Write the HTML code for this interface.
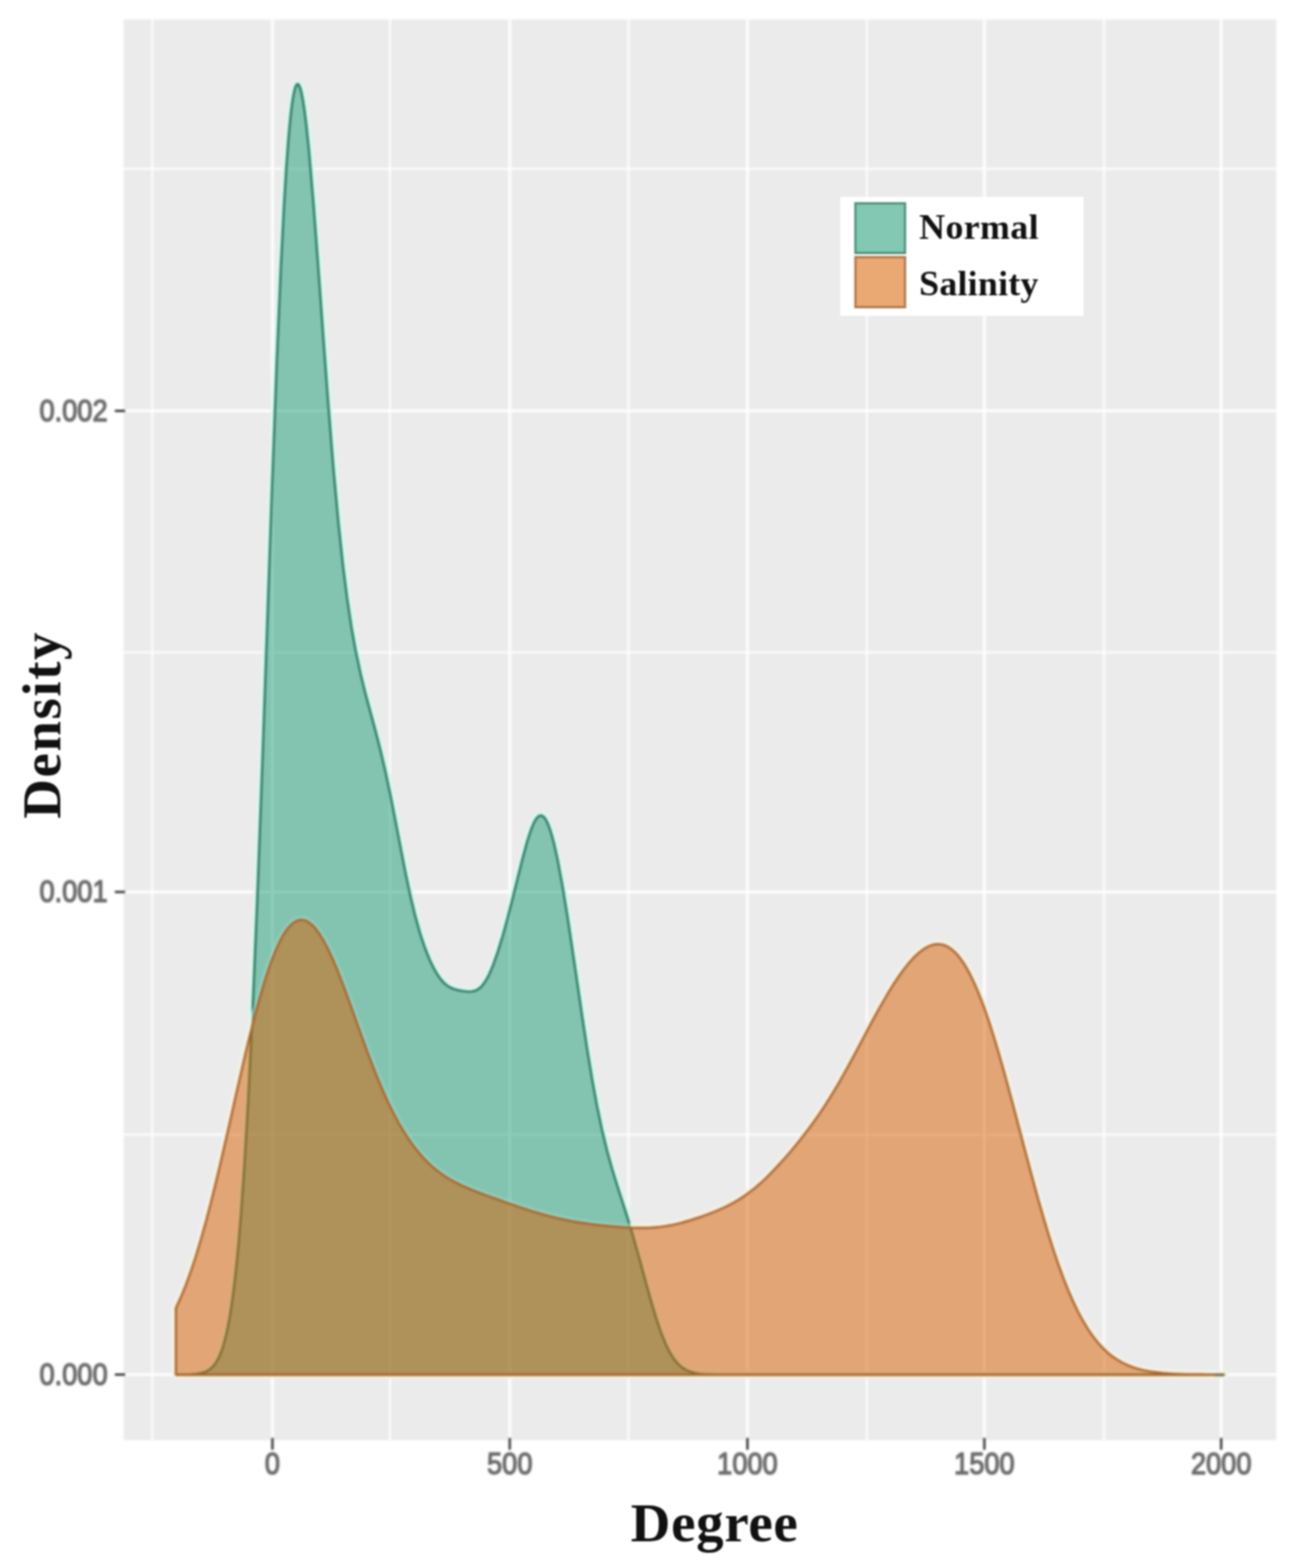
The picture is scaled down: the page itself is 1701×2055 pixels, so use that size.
<!DOCTYPE html>
<html lang="en"><head><meta charset="utf-8"><title>Degree density</title>
<style>
html,body{margin:0;padding:0;background:#fff;}
body{width:1701px;height:2055px;position:relative;overflow:hidden;}
</style></head><body>
<svg width="1701" height="2055" viewBox="0 0 1701 2055" style="position:absolute;left:0;top:0">
<defs><filter id="soft" filterUnits="userSpaceOnUse" x="0" y="0" width="1701" height="2055" color-interpolation-filters="sRGB"><feGaussianBlur stdDeviation="1.8"/></filter></defs>
<defs><filter id="soft2" filterUnits="userSpaceOnUse" x="0" y="0" width="1701" height="2055" color-interpolation-filters="sRGB"><feGaussianBlur stdDeviation="0.9"/></filter></defs>
<rect x="0" y="0" width="1701" height="2055" fill="#fff"/>
<g filter="url(#soft)">
<rect x="0" y="0" width="1701" height="2055" fill="#fff"/>
<rect x="162" y="25.5" width="1510.5" height="1862.0" fill="#ebebeb"/>
<g stroke="#ffffff" stroke-width="2.4">
<line x1="199.5" y1="25.5" x2="199.5" y2="1887.5"/>
<line x1="511" y1="25.5" x2="511" y2="1887.5"/>
<line x1="823.5" y1="25.5" x2="823.5" y2="1887.5"/>
<line x1="1136" y1="25.5" x2="1136" y2="1887.5"/>
<line x1="1446.8" y1="25.5" x2="1446.8" y2="1887.5"/>
<line x1="162" y1="1487" x2="1672.5" y2="1487"/>
<line x1="162" y1="855" x2="1672.5" y2="855"/>
<line x1="162" y1="221.3" x2="1672.5" y2="221.3"/>
</g>
<g stroke="#ffffff" stroke-width="3.6">
<line x1="357" y1="25.5" x2="357" y2="1887.5"/>
<line x1="668" y1="25.5" x2="668" y2="1887.5"/>
<line x1="979.5" y1="25.5" x2="979.5" y2="1887.5"/>
<line x1="1290" y1="25.5" x2="1290" y2="1887.5"/>
<line x1="1600.3" y1="25.5" x2="1600.3" y2="1887.5"/>
<line x1="162" y1="1801.5" x2="1672.5" y2="1801.5"/>
<line x1="162" y1="1169" x2="1672.5" y2="1169"/>
<line x1="162" y1="538.5" x2="1672.5" y2="538.5"/>
</g>
<clipPath id="outG"><path clip-rule="evenodd" d="M0,0H1701V2055H0ZM230.5,1801.5L230.5,1801.5L237.0,1801.4L243.5,1801.4L250.0,1801.2L256.5,1800.7L263.0,1799.7L268.0,1798.3L272.0,1796.5L275.0,1794.6L278.0,1792.0L280.5,1789.3L283.0,1785.8L285.5,1781.6L288.0,1776.4L290.5,1770.0L293.0,1762.4L295.5,1753.2L298.0,1742.2L300.5,1729.2L303.5,1710.7L306.5,1688.5L309.5,1662.2L313.0,1625.9L316.5,1582.8L320.5,1524.8L325.0,1447.7L330.5,1336.4L337.0,1182.3L343.5,1008.7L350.0,823.9L356.5,639.0L363.0,466.9L368.0,351.0L372.0,272.2L375.0,222.7L377.5,188.0L379.5,164.9L381.0,150.2L382.5,137.9L384.0,127.8L385.0,122.4L386.0,118.0L387.0,114.6L387.5,113.3L388.0,112.2L388.5,111.3L389.0,110.7L389.5,110.3L390.0,110.2L390.5,110.3L391.0,110.6L391.5,111.2L392.0,111.9L392.5,112.9L393.5,115.6L394.5,119.0L395.5,123.3L397.0,131.2L399.0,144.2L401.5,164.2L405.0,198.2L411.0,268.8L417.5,355.7L424.0,445.9L430.5,533.4L437.0,613.9L443.5,685.0L449.5,741.1L455.0,784.7L460.5,821.4L466.0,852.2L472.5,882.8L479.0,909.3L485.5,933.5L492.0,957.5L498.5,982.8L505.0,1010.6L511.5,1041.2L518.0,1074.2L524.5,1108.3L531.0,1141.7L537.5,1172.7L544.0,1199.9L550.5,1223.2L557.0,1242.6L563.0,1257.6L568.5,1269.1L573.5,1277.7L577.5,1283.3L581.5,1287.8L585.0,1290.9L589.0,1293.6L594.0,1295.9L600.5,1297.8L607.0,1298.9L613.5,1299.6L618.0,1299.4L621.5,1298.8L624.0,1297.9L626.5,1296.5L629.0,1294.6L631.5,1292.2L634.5,1288.4L637.5,1283.7L641.0,1277.1L645.5,1266.7L652.0,1248.5L658.5,1227.3L665.0,1203.8L671.5,1178.6L678.0,1152.4L684.5,1126.4L691.0,1102.4L695.0,1089.9L698.0,1082.0L700.0,1077.7L702.0,1074.2L703.5,1072.1L705.0,1070.5L706.0,1069.7L707.0,1069.2L708.0,1068.9L709.0,1068.8L710.0,1069.0L711.0,1069.5L712.0,1070.2L713.0,1071.1L714.5,1073.0L716.0,1075.5L718.0,1079.6L720.0,1084.7L722.5,1092.4L726.0,1105.4L730.5,1125.5L737.0,1160.3L743.5,1200.1L750.0,1243.2L756.5,1287.8L763.0,1332.2L769.5,1375.0L776.0,1414.6L782.5,1450.0L789.0,1481.1L795.5,1507.9L802.0,1531.4L808.5,1552.6L815.0,1572.9L821.5,1593.3L828.0,1614.7L834.5,1637.3L841.0,1660.9L847.5,1684.8L854.0,1708.0L860.5,1729.5L867.0,1748.4L872.5,1761.8L877.0,1771.0L881.5,1778.6L885.5,1784.1L889.5,1788.5L894.0,1792.3L899.0,1795.5L905.0,1798.0L911.5,1799.6L918.0,1800.6L924.5,1801.1L931.0,1801.3L937.5,1801.4L944.0,1801.5L950.5,1801.5L957.0,1801.5L963.5,1801.5L970.0,1801.5L976.5,1801.5L983.0,1801.5L989.5,1801.5L996.0,1801.5L1002.5,1801.5L1009.0,1801.5L1015.5,1801.5L1022.0,1801.5L1028.5,1801.5L1035.0,1801.5L1041.5,1801.5L1048.0,1801.5L1054.5,1801.5L1061.0,1801.5L1067.5,1801.5L1074.0,1801.5L1080.5,1801.5L1087.0,1801.5L1093.5,1801.5L1100.0,1801.5L1106.5,1801.5L1113.0,1801.5L1119.5,1801.5L1126.0,1801.5L1132.5,1801.5L1139.0,1801.5L1145.5,1801.5L1152.0,1801.5L1158.5,1801.5L1165.0,1801.5L1171.5,1801.5L1178.0,1801.5L1184.5,1801.5L1191.0,1801.5L1197.5,1801.5L1204.0,1801.5L1210.5,1801.5L1217.0,1801.5L1223.5,1801.5L1230.0,1801.5L1236.5,1801.5L1243.0,1801.5L1249.5,1801.5L1256.0,1801.5L1262.5,1801.5L1269.0,1801.5L1275.5,1801.5L1282.0,1801.5L1288.5,1801.5L1295.0,1801.5L1301.5,1801.5L1308.0,1801.5L1314.5,1801.5L1321.0,1801.5L1327.5,1801.5L1334.0,1801.5L1340.5,1801.5L1347.0,1801.5L1353.5,1801.5L1360.0,1801.5L1366.5,1801.5L1373.0,1801.5L1379.5,1801.5L1386.0,1801.5L1392.5,1801.5L1399.0,1801.5L1405.5,1801.5L1412.0,1801.5L1418.5,1801.5L1425.0,1801.5L1431.5,1801.5L1438.0,1801.5L1444.5,1801.5L1451.0,1801.5L1457.5,1801.5L1464.0,1801.5L1470.5,1801.5L1477.0,1801.5L1483.5,1801.5L1490.0,1801.5L1496.5,1801.5L1503.0,1801.5L1509.5,1801.5L1516.0,1801.5L1522.5,1801.5L1529.0,1801.5L1535.5,1801.5L1542.0,1801.5L1548.5,1801.5L1555.0,1801.5L1561.5,1801.5L1568.0,1801.5L1574.5,1801.5L1581.0,1801.5L1587.5,1801.5L1594.0,1801.5L1600.5,1801.5L1604.0,1801.5L1604.0,1801.5Z"/></clipPath>
<clipPath id="outO"><path clip-rule="evenodd" d="M0,0H1701V2055H0ZM230.5,1801.5L230.5,1714.3L237.0,1700.2L243.5,1684.2L250.0,1666.5L256.5,1646.9L263.0,1625.4L269.5,1602.3L276.0,1577.5L282.5,1551.4L289.0,1524.1L295.5,1495.9L302.0,1467.2L308.5,1438.3L315.0,1409.7L321.5,1381.7L328.0,1354.8L334.5,1329.2L341.0,1305.4L347.5,1283.6L354.0,1264.1L360.5,1247.2L366.5,1234.0L371.5,1224.9L376.0,1218.1L380.0,1213.4L383.5,1210.1L386.5,1208.0L389.5,1206.5L392.0,1205.8L394.5,1205.5L397.0,1205.6L399.5,1206.2L402.5,1207.4L405.5,1209.3L409.0,1212.1L413.0,1216.3L418.0,1222.8L424.0,1232.4L430.5,1244.9L437.0,1259.1L443.5,1274.7L450.0,1291.5L456.5,1309.1L463.0,1327.2L469.5,1345.4L476.0,1363.5L482.5,1381.2L489.0,1398.2L495.5,1414.5L502.0,1429.9L508.5,1444.3L515.0,1457.6L521.5,1469.9L528.0,1481.1L534.5,1491.3L541.0,1500.6L547.5,1509.0L554.0,1516.5L560.5,1523.2L567.0,1529.3L573.5,1534.6L580.0,1539.4L586.5,1543.7L593.0,1547.5L599.5,1550.9L606.0,1554.1L612.5,1556.9L619.0,1559.6L625.5,1562.2L632.0,1564.6L638.5,1567.0L645.0,1569.4L651.5,1571.7L658.0,1574.1L664.5,1576.4L671.0,1578.6L677.5,1580.9L684.0,1583.1L690.5,1585.2L697.0,1587.3L703.5,1589.2L710.0,1591.1L716.5,1592.9L723.0,1594.6L729.5,1596.2L736.0,1597.6L742.5,1599.0L749.0,1600.3L755.5,1601.5L762.0,1602.5L768.5,1603.5L775.0,1604.4L781.5,1605.2L788.0,1605.9L794.5,1606.5L801.0,1607.1L807.5,1607.7L814.0,1608.2L820.5,1608.6L827.0,1609.0L833.5,1609.2L840.0,1609.3L846.5,1609.2L853.0,1609.0L859.5,1608.5L866.0,1607.9L872.5,1606.9L879.0,1605.8L885.5,1604.4L892.0,1602.8L898.5,1601.0L905.0,1599.1L911.5,1597.0L918.0,1594.8L924.5,1592.5L931.0,1590.1L937.5,1587.5L944.0,1584.8L950.5,1581.8L957.0,1578.5L963.5,1574.9L970.0,1571.0L976.5,1566.7L983.0,1561.9L989.5,1556.8L996.0,1551.2L1002.5,1545.2L1009.0,1538.8L1015.5,1532.1L1022.0,1525.1L1028.5,1517.9L1035.0,1510.4L1041.5,1502.6L1048.0,1494.6L1054.5,1486.3L1061.0,1477.7L1067.5,1468.8L1074.0,1459.5L1080.5,1449.7L1087.0,1439.6L1093.5,1428.9L1100.0,1417.9L1106.5,1406.4L1113.0,1394.7L1119.5,1382.6L1126.0,1370.4L1132.5,1358.1L1139.0,1345.9L1145.5,1333.8L1152.0,1322.0L1158.5,1310.6L1165.0,1299.6L1171.5,1289.1L1178.0,1279.4L1184.5,1270.3L1191.0,1262.2L1197.5,1254.9L1204.0,1248.8L1210.5,1243.8L1216.5,1240.4L1221.5,1238.5L1226.0,1237.5L1230.5,1237.4L1234.5,1237.9L1238.5,1239.1L1242.5,1241.0L1247.0,1244.1L1252.0,1248.5L1257.5,1254.8L1263.5,1263.3L1270.0,1274.5L1276.5,1287.8L1283.0,1302.9L1289.5,1320.0L1296.0,1338.8L1302.5,1359.1L1309.0,1380.8L1315.5,1403.6L1322.0,1427.3L1328.5,1451.6L1335.0,1476.3L1341.5,1501.1L1348.0,1525.7L1354.5,1549.9L1361.0,1573.4L1367.5,1596.0L1374.0,1617.7L1380.5,1638.1L1387.0,1657.2L1393.5,1675.0L1400.0,1691.3L1406.5,1706.1L1413.0,1719.6L1419.5,1731.6L1426.0,1742.3L1432.5,1751.7L1439.0,1759.9L1445.5,1767.0L1452.0,1773.1L1458.5,1778.3L1465.0,1782.6L1471.5,1786.3L1478.0,1789.4L1484.5,1791.9L1491.0,1793.9L1497.5,1795.6L1504.0,1796.9L1510.5,1798.0L1517.0,1798.8L1523.5,1799.5L1530.0,1800.0L1536.5,1800.4L1543.0,1800.7L1549.5,1800.9L1556.0,1801.1L1562.5,1801.2L1569.0,1801.3L1575.5,1801.3L1582.0,1801.4L1588.5,1801.4L1595.0,1801.5L1601.5,1801.5L1604.0,1801.5L1604.0,1801.5Z"/></clipPath>
<path d="M230.5,1801.5L230.5,1801.5L237.0,1801.4L243.5,1801.4L250.0,1801.2L256.5,1800.7L263.0,1799.7L268.0,1798.3L272.0,1796.5L275.0,1794.6L278.0,1792.0L280.5,1789.3L283.0,1785.8L285.5,1781.6L288.0,1776.4L290.5,1770.0L293.0,1762.4L295.5,1753.2L298.0,1742.2L300.5,1729.2L303.5,1710.7L306.5,1688.5L309.5,1662.2L313.0,1625.9L316.5,1582.8L320.5,1524.8L325.0,1447.7L330.5,1336.4L337.0,1182.3L343.5,1008.7L350.0,823.9L356.5,639.0L363.0,466.9L368.0,351.0L372.0,272.2L375.0,222.7L377.5,188.0L379.5,164.9L381.0,150.2L382.5,137.9L384.0,127.8L385.0,122.4L386.0,118.0L387.0,114.6L387.5,113.3L388.0,112.2L388.5,111.3L389.0,110.7L389.5,110.3L390.0,110.2L390.5,110.3L391.0,110.6L391.5,111.2L392.0,111.9L392.5,112.9L393.5,115.6L394.5,119.0L395.5,123.3L397.0,131.2L399.0,144.2L401.5,164.2L405.0,198.2L411.0,268.8L417.5,355.7L424.0,445.9L430.5,533.4L437.0,613.9L443.5,685.0L449.5,741.1L455.0,784.7L460.5,821.4L466.0,852.2L472.5,882.8L479.0,909.3L485.5,933.5L492.0,957.5L498.5,982.8L505.0,1010.6L511.5,1041.2L518.0,1074.2L524.5,1108.3L531.0,1141.7L537.5,1172.7L544.0,1199.9L550.5,1223.2L557.0,1242.6L563.0,1257.6L568.5,1269.1L573.5,1277.7L577.5,1283.3L581.5,1287.8L585.0,1290.9L589.0,1293.6L594.0,1295.9L600.5,1297.8L607.0,1298.9L613.5,1299.6L618.0,1299.4L621.5,1298.8L624.0,1297.9L626.5,1296.5L629.0,1294.6L631.5,1292.2L634.5,1288.4L637.5,1283.7L641.0,1277.1L645.5,1266.7L652.0,1248.5L658.5,1227.3L665.0,1203.8L671.5,1178.6L678.0,1152.4L684.5,1126.4L691.0,1102.4L695.0,1089.9L698.0,1082.0L700.0,1077.7L702.0,1074.2L703.5,1072.1L705.0,1070.5L706.0,1069.7L707.0,1069.2L708.0,1068.9L709.0,1068.8L710.0,1069.0L711.0,1069.5L712.0,1070.2L713.0,1071.1L714.5,1073.0L716.0,1075.5L718.0,1079.6L720.0,1084.7L722.5,1092.4L726.0,1105.4L730.5,1125.5L737.0,1160.3L743.5,1200.1L750.0,1243.2L756.5,1287.8L763.0,1332.2L769.5,1375.0L776.0,1414.6L782.5,1450.0L789.0,1481.1L795.5,1507.9L802.0,1531.4L808.5,1552.6L815.0,1572.9L821.5,1593.3L828.0,1614.7L834.5,1637.3L841.0,1660.9L847.5,1684.8L854.0,1708.0L860.5,1729.5L867.0,1748.4L872.5,1761.8L877.0,1771.0L881.5,1778.6L885.5,1784.1L889.5,1788.5L894.0,1792.3L899.0,1795.5L905.0,1798.0L911.5,1799.6L918.0,1800.6L924.5,1801.1L931.0,1801.3L937.5,1801.4L944.0,1801.5L950.5,1801.5L957.0,1801.5L963.5,1801.5L970.0,1801.5L976.5,1801.5L983.0,1801.5L989.5,1801.5L996.0,1801.5L1002.5,1801.5L1009.0,1801.5L1015.5,1801.5L1022.0,1801.5L1028.5,1801.5L1035.0,1801.5L1041.5,1801.5L1048.0,1801.5L1054.5,1801.5L1061.0,1801.5L1067.5,1801.5L1074.0,1801.5L1080.5,1801.5L1087.0,1801.5L1093.5,1801.5L1100.0,1801.5L1106.5,1801.5L1113.0,1801.5L1119.5,1801.5L1126.0,1801.5L1132.5,1801.5L1139.0,1801.5L1145.5,1801.5L1152.0,1801.5L1158.5,1801.5L1165.0,1801.5L1171.5,1801.5L1178.0,1801.5L1184.5,1801.5L1191.0,1801.5L1197.5,1801.5L1204.0,1801.5L1210.5,1801.5L1217.0,1801.5L1223.5,1801.5L1230.0,1801.5L1236.5,1801.5L1243.0,1801.5L1249.5,1801.5L1256.0,1801.5L1262.5,1801.5L1269.0,1801.5L1275.5,1801.5L1282.0,1801.5L1288.5,1801.5L1295.0,1801.5L1301.5,1801.5L1308.0,1801.5L1314.5,1801.5L1321.0,1801.5L1327.5,1801.5L1334.0,1801.5L1340.5,1801.5L1347.0,1801.5L1353.5,1801.5L1360.0,1801.5L1366.5,1801.5L1373.0,1801.5L1379.5,1801.5L1386.0,1801.5L1392.5,1801.5L1399.0,1801.5L1405.5,1801.5L1412.0,1801.5L1418.5,1801.5L1425.0,1801.5L1431.5,1801.5L1438.0,1801.5L1444.5,1801.5L1451.0,1801.5L1457.5,1801.5L1464.0,1801.5L1470.5,1801.5L1477.0,1801.5L1483.5,1801.5L1490.0,1801.5L1496.5,1801.5L1503.0,1801.5L1509.5,1801.5L1516.0,1801.5L1522.5,1801.5L1529.0,1801.5L1535.5,1801.5L1542.0,1801.5L1548.5,1801.5L1555.0,1801.5L1561.5,1801.5L1568.0,1801.5L1574.5,1801.5L1581.0,1801.5L1587.5,1801.5L1594.0,1801.5L1600.5,1801.5L1604.0,1801.5L1604.0,1801.5Z" fill="none" stroke="#d6faee" stroke-opacity="0.8" stroke-width="11" stroke-linejoin="round" clip-path="url(#outG)"/>
<path d="M230.5,1801.5L230.5,1801.5L237.0,1801.4L243.5,1801.4L250.0,1801.2L256.5,1800.7L263.0,1799.7L268.0,1798.3L272.0,1796.5L275.0,1794.6L278.0,1792.0L280.5,1789.3L283.0,1785.8L285.5,1781.6L288.0,1776.4L290.5,1770.0L293.0,1762.4L295.5,1753.2L298.0,1742.2L300.5,1729.2L303.5,1710.7L306.5,1688.5L309.5,1662.2L313.0,1625.9L316.5,1582.8L320.5,1524.8L325.0,1447.7L330.5,1336.4L337.0,1182.3L343.5,1008.7L350.0,823.9L356.5,639.0L363.0,466.9L368.0,351.0L372.0,272.2L375.0,222.7L377.5,188.0L379.5,164.9L381.0,150.2L382.5,137.9L384.0,127.8L385.0,122.4L386.0,118.0L387.0,114.6L387.5,113.3L388.0,112.2L388.5,111.3L389.0,110.7L389.5,110.3L390.0,110.2L390.5,110.3L391.0,110.6L391.5,111.2L392.0,111.9L392.5,112.9L393.5,115.6L394.5,119.0L395.5,123.3L397.0,131.2L399.0,144.2L401.5,164.2L405.0,198.2L411.0,268.8L417.5,355.7L424.0,445.9L430.5,533.4L437.0,613.9L443.5,685.0L449.5,741.1L455.0,784.7L460.5,821.4L466.0,852.2L472.5,882.8L479.0,909.3L485.5,933.5L492.0,957.5L498.5,982.8L505.0,1010.6L511.5,1041.2L518.0,1074.2L524.5,1108.3L531.0,1141.7L537.5,1172.7L544.0,1199.9L550.5,1223.2L557.0,1242.6L563.0,1257.6L568.5,1269.1L573.5,1277.7L577.5,1283.3L581.5,1287.8L585.0,1290.9L589.0,1293.6L594.0,1295.9L600.5,1297.8L607.0,1298.9L613.5,1299.6L618.0,1299.4L621.5,1298.8L624.0,1297.9L626.5,1296.5L629.0,1294.6L631.5,1292.2L634.5,1288.4L637.5,1283.7L641.0,1277.1L645.5,1266.7L652.0,1248.5L658.5,1227.3L665.0,1203.8L671.5,1178.6L678.0,1152.4L684.5,1126.4L691.0,1102.4L695.0,1089.9L698.0,1082.0L700.0,1077.7L702.0,1074.2L703.5,1072.1L705.0,1070.5L706.0,1069.7L707.0,1069.2L708.0,1068.9L709.0,1068.8L710.0,1069.0L711.0,1069.5L712.0,1070.2L713.0,1071.1L714.5,1073.0L716.0,1075.5L718.0,1079.6L720.0,1084.7L722.5,1092.4L726.0,1105.4L730.5,1125.5L737.0,1160.3L743.5,1200.1L750.0,1243.2L756.5,1287.8L763.0,1332.2L769.5,1375.0L776.0,1414.6L782.5,1450.0L789.0,1481.1L795.5,1507.9L802.0,1531.4L808.5,1552.6L815.0,1572.9L821.5,1593.3L828.0,1614.7L834.5,1637.3L841.0,1660.9L847.5,1684.8L854.0,1708.0L860.5,1729.5L867.0,1748.4L872.5,1761.8L877.0,1771.0L881.5,1778.6L885.5,1784.1L889.5,1788.5L894.0,1792.3L899.0,1795.5L905.0,1798.0L911.5,1799.6L918.0,1800.6L924.5,1801.1L931.0,1801.3L937.5,1801.4L944.0,1801.5L950.5,1801.5L957.0,1801.5L963.5,1801.5L970.0,1801.5L976.5,1801.5L983.0,1801.5L989.5,1801.5L996.0,1801.5L1002.5,1801.5L1009.0,1801.5L1015.5,1801.5L1022.0,1801.5L1028.5,1801.5L1035.0,1801.5L1041.5,1801.5L1048.0,1801.5L1054.5,1801.5L1061.0,1801.5L1067.5,1801.5L1074.0,1801.5L1080.5,1801.5L1087.0,1801.5L1093.5,1801.5L1100.0,1801.5L1106.5,1801.5L1113.0,1801.5L1119.5,1801.5L1126.0,1801.5L1132.5,1801.5L1139.0,1801.5L1145.5,1801.5L1152.0,1801.5L1158.5,1801.5L1165.0,1801.5L1171.5,1801.5L1178.0,1801.5L1184.5,1801.5L1191.0,1801.5L1197.5,1801.5L1204.0,1801.5L1210.5,1801.5L1217.0,1801.5L1223.5,1801.5L1230.0,1801.5L1236.5,1801.5L1243.0,1801.5L1249.5,1801.5L1256.0,1801.5L1262.5,1801.5L1269.0,1801.5L1275.5,1801.5L1282.0,1801.5L1288.5,1801.5L1295.0,1801.5L1301.5,1801.5L1308.0,1801.5L1314.5,1801.5L1321.0,1801.5L1327.5,1801.5L1334.0,1801.5L1340.5,1801.5L1347.0,1801.5L1353.5,1801.5L1360.0,1801.5L1366.5,1801.5L1373.0,1801.5L1379.5,1801.5L1386.0,1801.5L1392.5,1801.5L1399.0,1801.5L1405.5,1801.5L1412.0,1801.5L1418.5,1801.5L1425.0,1801.5L1431.5,1801.5L1438.0,1801.5L1444.5,1801.5L1451.0,1801.5L1457.5,1801.5L1464.0,1801.5L1470.5,1801.5L1477.0,1801.5L1483.5,1801.5L1490.0,1801.5L1496.5,1801.5L1503.0,1801.5L1509.5,1801.5L1516.0,1801.5L1522.5,1801.5L1529.0,1801.5L1535.5,1801.5L1542.0,1801.5L1548.5,1801.5L1555.0,1801.5L1561.5,1801.5L1568.0,1801.5L1574.5,1801.5L1581.0,1801.5L1587.5,1801.5L1594.0,1801.5L1600.5,1801.5L1604.0,1801.5L1604.0,1801.5Z" fill="#1b9e77" fill-opacity="0.5" stroke="#25755f" stroke-width="2.9" stroke-linejoin="round"/>
<g clip-path="url(#outG)"><path d="M230.5,1801.5L230.5,1714.3L237.0,1700.2L243.5,1684.2L250.0,1666.5L256.5,1646.9L263.0,1625.4L269.5,1602.3L276.0,1577.5L282.5,1551.4L289.0,1524.1L295.5,1495.9L302.0,1467.2L308.5,1438.3L315.0,1409.7L321.5,1381.7L328.0,1354.8L334.5,1329.2L341.0,1305.4L347.5,1283.6L354.0,1264.1L360.5,1247.2L366.5,1234.0L371.5,1224.9L376.0,1218.1L380.0,1213.4L383.5,1210.1L386.5,1208.0L389.5,1206.5L392.0,1205.8L394.5,1205.5L397.0,1205.6L399.5,1206.2L402.5,1207.4L405.5,1209.3L409.0,1212.1L413.0,1216.3L418.0,1222.8L424.0,1232.4L430.5,1244.9L437.0,1259.1L443.5,1274.7L450.0,1291.5L456.5,1309.1L463.0,1327.2L469.5,1345.4L476.0,1363.5L482.5,1381.2L489.0,1398.2L495.5,1414.5L502.0,1429.9L508.5,1444.3L515.0,1457.6L521.5,1469.9L528.0,1481.1L534.5,1491.3L541.0,1500.6L547.5,1509.0L554.0,1516.5L560.5,1523.2L567.0,1529.3L573.5,1534.6L580.0,1539.4L586.5,1543.7L593.0,1547.5L599.5,1550.9L606.0,1554.1L612.5,1556.9L619.0,1559.6L625.5,1562.2L632.0,1564.6L638.5,1567.0L645.0,1569.4L651.5,1571.7L658.0,1574.1L664.5,1576.4L671.0,1578.6L677.5,1580.9L684.0,1583.1L690.5,1585.2L697.0,1587.3L703.5,1589.2L710.0,1591.1L716.5,1592.9L723.0,1594.6L729.5,1596.2L736.0,1597.6L742.5,1599.0L749.0,1600.3L755.5,1601.5L762.0,1602.5L768.5,1603.5L775.0,1604.4L781.5,1605.2L788.0,1605.9L794.5,1606.5L801.0,1607.1L807.5,1607.7L814.0,1608.2L820.5,1608.6L827.0,1609.0L833.5,1609.2L840.0,1609.3L846.5,1609.2L853.0,1609.0L859.5,1608.5L866.0,1607.9L872.5,1606.9L879.0,1605.8L885.5,1604.4L892.0,1602.8L898.5,1601.0L905.0,1599.1L911.5,1597.0L918.0,1594.8L924.5,1592.5L931.0,1590.1L937.5,1587.5L944.0,1584.8L950.5,1581.8L957.0,1578.5L963.5,1574.9L970.0,1571.0L976.5,1566.7L983.0,1561.9L989.5,1556.8L996.0,1551.2L1002.5,1545.2L1009.0,1538.8L1015.5,1532.1L1022.0,1525.1L1028.5,1517.9L1035.0,1510.4L1041.5,1502.6L1048.0,1494.6L1054.5,1486.3L1061.0,1477.7L1067.5,1468.8L1074.0,1459.5L1080.5,1449.7L1087.0,1439.6L1093.5,1428.9L1100.0,1417.9L1106.5,1406.4L1113.0,1394.7L1119.5,1382.6L1126.0,1370.4L1132.5,1358.1L1139.0,1345.9L1145.5,1333.8L1152.0,1322.0L1158.5,1310.6L1165.0,1299.6L1171.5,1289.1L1178.0,1279.4L1184.5,1270.3L1191.0,1262.2L1197.5,1254.9L1204.0,1248.8L1210.5,1243.8L1216.5,1240.4L1221.5,1238.5L1226.0,1237.5L1230.5,1237.4L1234.5,1237.9L1238.5,1239.1L1242.5,1241.0L1247.0,1244.1L1252.0,1248.5L1257.5,1254.8L1263.5,1263.3L1270.0,1274.5L1276.5,1287.8L1283.0,1302.9L1289.5,1320.0L1296.0,1338.8L1302.5,1359.1L1309.0,1380.8L1315.5,1403.6L1322.0,1427.3L1328.5,1451.6L1335.0,1476.3L1341.5,1501.1L1348.0,1525.7L1354.5,1549.9L1361.0,1573.4L1367.5,1596.0L1374.0,1617.7L1380.5,1638.1L1387.0,1657.2L1393.5,1675.0L1400.0,1691.3L1406.5,1706.1L1413.0,1719.6L1419.5,1731.6L1426.0,1742.3L1432.5,1751.7L1439.0,1759.9L1445.5,1767.0L1452.0,1773.1L1458.5,1778.3L1465.0,1782.6L1471.5,1786.3L1478.0,1789.4L1484.5,1791.9L1491.0,1793.9L1497.5,1795.6L1504.0,1796.9L1510.5,1798.0L1517.0,1798.8L1523.5,1799.5L1530.0,1800.0L1536.5,1800.4L1543.0,1800.7L1549.5,1800.9L1556.0,1801.1L1562.5,1801.2L1569.0,1801.3L1575.5,1801.3L1582.0,1801.4L1588.5,1801.4L1595.0,1801.5L1601.5,1801.5L1604.0,1801.5L1604.0,1801.5Z" fill="none" stroke="#fff1e3" stroke-opacity="0.8" stroke-width="11" stroke-linejoin="round" clip-path="url(#outO)"/></g>
<path d="M230.5,1801.5L230.5,1714.3L237.0,1700.2L243.5,1684.2L250.0,1666.5L256.5,1646.9L263.0,1625.4L269.5,1602.3L276.0,1577.5L282.5,1551.4L289.0,1524.1L295.5,1495.9L302.0,1467.2L308.5,1438.3L315.0,1409.7L321.5,1381.7L328.0,1354.8L334.5,1329.2L341.0,1305.4L347.5,1283.6L354.0,1264.1L360.5,1247.2L366.5,1234.0L371.5,1224.9L376.0,1218.1L380.0,1213.4L383.5,1210.1L386.5,1208.0L389.5,1206.5L392.0,1205.8L394.5,1205.5L397.0,1205.6L399.5,1206.2L402.5,1207.4L405.5,1209.3L409.0,1212.1L413.0,1216.3L418.0,1222.8L424.0,1232.4L430.5,1244.9L437.0,1259.1L443.5,1274.7L450.0,1291.5L456.5,1309.1L463.0,1327.2L469.5,1345.4L476.0,1363.5L482.5,1381.2L489.0,1398.2L495.5,1414.5L502.0,1429.9L508.5,1444.3L515.0,1457.6L521.5,1469.9L528.0,1481.1L534.5,1491.3L541.0,1500.6L547.5,1509.0L554.0,1516.5L560.5,1523.2L567.0,1529.3L573.5,1534.6L580.0,1539.4L586.5,1543.7L593.0,1547.5L599.5,1550.9L606.0,1554.1L612.5,1556.9L619.0,1559.6L625.5,1562.2L632.0,1564.6L638.5,1567.0L645.0,1569.4L651.5,1571.7L658.0,1574.1L664.5,1576.4L671.0,1578.6L677.5,1580.9L684.0,1583.1L690.5,1585.2L697.0,1587.3L703.5,1589.2L710.0,1591.1L716.5,1592.9L723.0,1594.6L729.5,1596.2L736.0,1597.6L742.5,1599.0L749.0,1600.3L755.5,1601.5L762.0,1602.5L768.5,1603.5L775.0,1604.4L781.5,1605.2L788.0,1605.9L794.5,1606.5L801.0,1607.1L807.5,1607.7L814.0,1608.2L820.5,1608.6L827.0,1609.0L833.5,1609.2L840.0,1609.3L846.5,1609.2L853.0,1609.0L859.5,1608.5L866.0,1607.9L872.5,1606.9L879.0,1605.8L885.5,1604.4L892.0,1602.8L898.5,1601.0L905.0,1599.1L911.5,1597.0L918.0,1594.8L924.5,1592.5L931.0,1590.1L937.5,1587.5L944.0,1584.8L950.5,1581.8L957.0,1578.5L963.5,1574.9L970.0,1571.0L976.5,1566.7L983.0,1561.9L989.5,1556.8L996.0,1551.2L1002.5,1545.2L1009.0,1538.8L1015.5,1532.1L1022.0,1525.1L1028.5,1517.9L1035.0,1510.4L1041.5,1502.6L1048.0,1494.6L1054.5,1486.3L1061.0,1477.7L1067.5,1468.8L1074.0,1459.5L1080.5,1449.7L1087.0,1439.6L1093.5,1428.9L1100.0,1417.9L1106.5,1406.4L1113.0,1394.7L1119.5,1382.6L1126.0,1370.4L1132.5,1358.1L1139.0,1345.9L1145.5,1333.8L1152.0,1322.0L1158.5,1310.6L1165.0,1299.6L1171.5,1289.1L1178.0,1279.4L1184.5,1270.3L1191.0,1262.2L1197.5,1254.9L1204.0,1248.8L1210.5,1243.8L1216.5,1240.4L1221.5,1238.5L1226.0,1237.5L1230.5,1237.4L1234.5,1237.9L1238.5,1239.1L1242.5,1241.0L1247.0,1244.1L1252.0,1248.5L1257.5,1254.8L1263.5,1263.3L1270.0,1274.5L1276.5,1287.8L1283.0,1302.9L1289.5,1320.0L1296.0,1338.8L1302.5,1359.1L1309.0,1380.8L1315.5,1403.6L1322.0,1427.3L1328.5,1451.6L1335.0,1476.3L1341.5,1501.1L1348.0,1525.7L1354.5,1549.9L1361.0,1573.4L1367.5,1596.0L1374.0,1617.7L1380.5,1638.1L1387.0,1657.2L1393.5,1675.0L1400.0,1691.3L1406.5,1706.1L1413.0,1719.6L1419.5,1731.6L1426.0,1742.3L1432.5,1751.7L1439.0,1759.9L1445.5,1767.0L1452.0,1773.1L1458.5,1778.3L1465.0,1782.6L1471.5,1786.3L1478.0,1789.4L1484.5,1791.9L1491.0,1793.9L1497.5,1795.6L1504.0,1796.9L1510.5,1798.0L1517.0,1798.8L1523.5,1799.5L1530.0,1800.0L1536.5,1800.4L1543.0,1800.7L1549.5,1800.9L1556.0,1801.1L1562.5,1801.2L1569.0,1801.3L1575.5,1801.3L1582.0,1801.4L1588.5,1801.4L1595.0,1801.5L1601.5,1801.5L1604.0,1801.5L1604.0,1801.5Z" fill="none" stroke="#d8f4e6" stroke-opacity="0.22" stroke-width="9" stroke-linejoin="round" clip-path="url(#outO)"/>
<path d="M230.5,1801.5L230.5,1714.3L237.0,1700.2L243.5,1684.2L250.0,1666.5L256.5,1646.9L263.0,1625.4L269.5,1602.3L276.0,1577.5L282.5,1551.4L289.0,1524.1L295.5,1495.9L302.0,1467.2L308.5,1438.3L315.0,1409.7L321.5,1381.7L328.0,1354.8L334.5,1329.2L341.0,1305.4L347.5,1283.6L354.0,1264.1L360.5,1247.2L366.5,1234.0L371.5,1224.9L376.0,1218.1L380.0,1213.4L383.5,1210.1L386.5,1208.0L389.5,1206.5L392.0,1205.8L394.5,1205.5L397.0,1205.6L399.5,1206.2L402.5,1207.4L405.5,1209.3L409.0,1212.1L413.0,1216.3L418.0,1222.8L424.0,1232.4L430.5,1244.9L437.0,1259.1L443.5,1274.7L450.0,1291.5L456.5,1309.1L463.0,1327.2L469.5,1345.4L476.0,1363.5L482.5,1381.2L489.0,1398.2L495.5,1414.5L502.0,1429.9L508.5,1444.3L515.0,1457.6L521.5,1469.9L528.0,1481.1L534.5,1491.3L541.0,1500.6L547.5,1509.0L554.0,1516.5L560.5,1523.2L567.0,1529.3L573.5,1534.6L580.0,1539.4L586.5,1543.7L593.0,1547.5L599.5,1550.9L606.0,1554.1L612.5,1556.9L619.0,1559.6L625.5,1562.2L632.0,1564.6L638.5,1567.0L645.0,1569.4L651.5,1571.7L658.0,1574.1L664.5,1576.4L671.0,1578.6L677.5,1580.9L684.0,1583.1L690.5,1585.2L697.0,1587.3L703.5,1589.2L710.0,1591.1L716.5,1592.9L723.0,1594.6L729.5,1596.2L736.0,1597.6L742.5,1599.0L749.0,1600.3L755.5,1601.5L762.0,1602.5L768.5,1603.5L775.0,1604.4L781.5,1605.2L788.0,1605.9L794.5,1606.5L801.0,1607.1L807.5,1607.7L814.0,1608.2L820.5,1608.6L827.0,1609.0L833.5,1609.2L840.0,1609.3L846.5,1609.2L853.0,1609.0L859.5,1608.5L866.0,1607.9L872.5,1606.9L879.0,1605.8L885.5,1604.4L892.0,1602.8L898.5,1601.0L905.0,1599.1L911.5,1597.0L918.0,1594.8L924.5,1592.5L931.0,1590.1L937.5,1587.5L944.0,1584.8L950.5,1581.8L957.0,1578.5L963.5,1574.9L970.0,1571.0L976.5,1566.7L983.0,1561.9L989.5,1556.8L996.0,1551.2L1002.5,1545.2L1009.0,1538.8L1015.5,1532.1L1022.0,1525.1L1028.5,1517.9L1035.0,1510.4L1041.5,1502.6L1048.0,1494.6L1054.5,1486.3L1061.0,1477.7L1067.5,1468.8L1074.0,1459.5L1080.5,1449.7L1087.0,1439.6L1093.5,1428.9L1100.0,1417.9L1106.5,1406.4L1113.0,1394.7L1119.5,1382.6L1126.0,1370.4L1132.5,1358.1L1139.0,1345.9L1145.5,1333.8L1152.0,1322.0L1158.5,1310.6L1165.0,1299.6L1171.5,1289.1L1178.0,1279.4L1184.5,1270.3L1191.0,1262.2L1197.5,1254.9L1204.0,1248.8L1210.5,1243.8L1216.5,1240.4L1221.5,1238.5L1226.0,1237.5L1230.5,1237.4L1234.5,1237.9L1238.5,1239.1L1242.5,1241.0L1247.0,1244.1L1252.0,1248.5L1257.5,1254.8L1263.5,1263.3L1270.0,1274.5L1276.5,1287.8L1283.0,1302.9L1289.5,1320.0L1296.0,1338.8L1302.5,1359.1L1309.0,1380.8L1315.5,1403.6L1322.0,1427.3L1328.5,1451.6L1335.0,1476.3L1341.5,1501.1L1348.0,1525.7L1354.5,1549.9L1361.0,1573.4L1367.5,1596.0L1374.0,1617.7L1380.5,1638.1L1387.0,1657.2L1393.5,1675.0L1400.0,1691.3L1406.5,1706.1L1413.0,1719.6L1419.5,1731.6L1426.0,1742.3L1432.5,1751.7L1439.0,1759.9L1445.5,1767.0L1452.0,1773.1L1458.5,1778.3L1465.0,1782.6L1471.5,1786.3L1478.0,1789.4L1484.5,1791.9L1491.0,1793.9L1497.5,1795.6L1504.0,1796.9L1510.5,1798.0L1517.0,1798.8L1523.5,1799.5L1530.0,1800.0L1536.5,1800.4L1543.0,1800.7L1549.5,1800.9L1556.0,1801.1L1562.5,1801.2L1569.0,1801.3L1575.5,1801.3L1582.0,1801.4L1588.5,1801.4L1595.0,1801.5L1601.5,1801.5L1604.0,1801.5L1604.0,1801.5Z" fill="#d95f02" fill-opacity="0.5" stroke="#a9632a" stroke-width="2.9" stroke-linejoin="round"/>
<line x1="230.5" y1="1801.8" x2="1604.0" y2="1801.8" stroke="#a9632a" stroke-opacity="0.75" stroke-width="3.6"/>
<line x1="1592.0" y1="1801.8" x2="1604.0" y2="1801.8" stroke="#5d6b5a" stroke-opacity="0.7" stroke-width="3.6"/>
<g stroke="#333" stroke-width="3">
<line x1="357" y1="1884.5" x2="357" y2="1900.0"/>
<line x1="668" y1="1884.5" x2="668" y2="1900.0"/>
<line x1="979.5" y1="1884.5" x2="979.5" y2="1900.0"/>
<line x1="1290" y1="1884.5" x2="1290" y2="1900.0"/>
<line x1="1600.3" y1="1884.5" x2="1600.3" y2="1900.0"/>
<line x1="150.5" y1="1801.5" x2="164" y2="1801.5"/>
<line x1="150.5" y1="1169" x2="164" y2="1169"/>
<line x1="150.5" y1="538.5" x2="164" y2="538.5"/>
</g>
<g font-family="'Liberation Sans', Arial, sans-serif" font-size="41" fill="#6b6b6b" stroke="#6b6b6b" stroke-width="1.7" stroke-linejoin="round">
<text transform="translate(357,1931.8) scale(0.87,1)" text-anchor="middle">0</text>
<text transform="translate(668,1931.8) scale(0.87,1)" text-anchor="middle">500</text>
<text transform="translate(979.5,1931.8) scale(0.87,1)" text-anchor="middle">1000</text>
<text transform="translate(1290,1931.8) scale(0.87,1)" text-anchor="middle">1500</text>
<text transform="translate(1600.3,1931.8) scale(0.87,1)" text-anchor="middle">2000</text>
<text transform="translate(141,1814.5) scale(0.87,1)" text-anchor="end">0.000</text>
<text transform="translate(141,1182) scale(0.87,1)" text-anchor="end">0.001</text>
<text transform="translate(141,551.5) scale(0.87,1)" text-anchor="end">0.002</text>
</g>
</g>
<g filter="url(#soft2)">
<rect x="1101" y="258" width="319" height="156" fill="#fff"/>
<rect x="1121" y="266.5" width="65" height="65" fill="#82c8b3" stroke="#4f937e" stroke-width="3"/>
<rect x="1121" y="337" width="65" height="65.5" fill="#eaa873" stroke="#b07a4c" stroke-width="3"/>
<g font-family="'Liberation Serif', 'Times New Roman', serif" font-weight="bold" fill="#111">
<text x="1204.5" y="313" font-size="47" letter-spacing="0.5">Normal</text>
<text x="1204.5" y="387" font-size="47" letter-spacing="0.3">Salinity</text>
<text x="936.5" y="2019.5" font-size="72" letter-spacing="0.9" text-anchor="middle">Degree</text>
<text transform="translate(79,950) rotate(-90)" font-size="72" letter-spacing="2" text-anchor="middle">Density</text>
</g>
</g>
</svg>
</body></html>
